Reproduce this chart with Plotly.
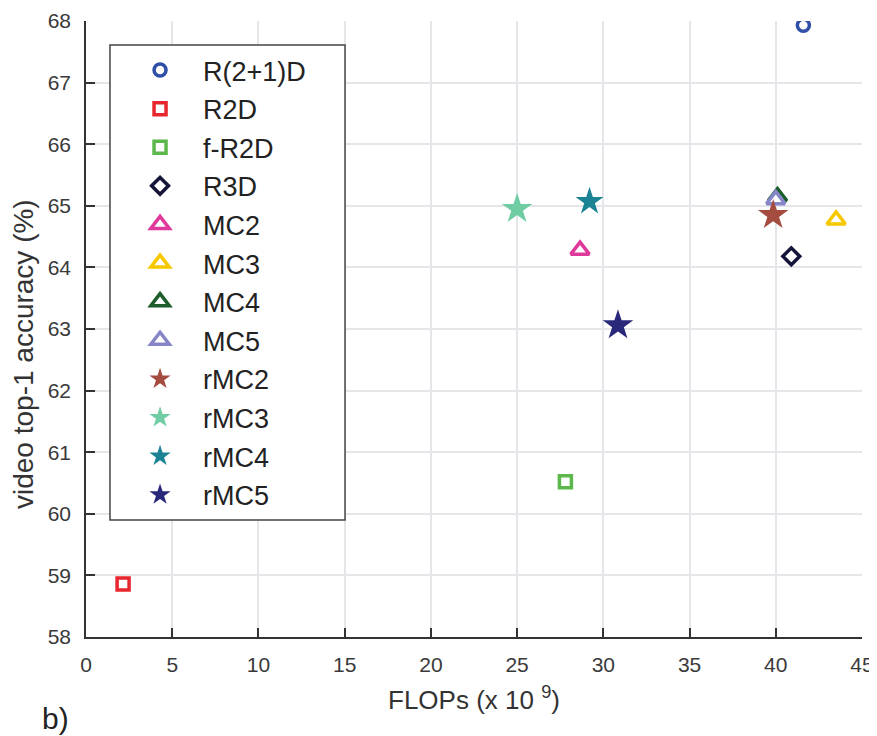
import plotly.graph_objects as go

names = ["R(2+1)D", "R2D", "f-R2D", "R3D", "MC2", "MC3", "MC4", "MC5",
         "rMC2", "rMC3", "rMC4", "rMC5"]
flops = [41.6, 2.15, 27.8, 40.9, 28.65, 43.5, 40.1, 40.0, 39.85, 25.0, 29.2, 30.85]
acc = [67.93, 58.86, 60.52, 64.18, 64.28, 64.77, 65.15, 65.1, 64.85, 64.95, 65.07, 63.06]
colors = ["#2f4fa8", "#e8262e", "#5db84b", "#15153a", "#e0399c", "#f6c800",
          "#1b5e2c", "#8585c8", "#a34c3f", "#6fcca3", "#1b8393", "#29287a"]
symbols = ["circle", "square", "square", "diamond", "triangle-up", "triangle-up",
           "triangle-up", "triangle-up", "star", "star", "star", "star"]
hollow = [True, True, True, True, True, True, True, True, False, False, False, False]
sizes = [12, 12, 12, 13, 16, 16, 16, 16, 23, 23, 21, 23]

x_ticks = [0, 5, 10, 15, 20, 25, 30, 35, 40, 45]
y_ticks = [58, 59, 60, 61, 62, 63, 64, 65, 66, 67, 68]

FONT = "Liberation Sans, Arial, Helvetica"

fig = go.Figure()
for i, n in enumerate(names):
    fig.add_trace(go.Scatter(
        x=[flops[i]], y=[acc[i]], mode="markers", name=n, legendgroup=n,
        marker=dict(symbol=symbols[i], size=sizes[i],
                    color="white" if hollow[i] else colors[i],
                    line=dict(color=colors[i], width=3.5 if hollow[i] else 0)),
    ))

axis_common = dict(showline=True, linecolor="#333", linewidth=1.5,
                   ticks="inside", ticklen=9, tickcolor="#333", tickwidth=1.5,
                   showgrid=True, gridcolor="#e4e6ea", gridwidth=1.8,
                   zeroline=False, mirror=False, automargin=False,
                   tickfont=dict(family=FONT, size=21, color="#3a3a3a"))

# legend frame (paper coords)
fig.add_shape(type="rect", xref="paper", yref="paper",
              x0=0.0309, x1=0.3338, y0=0.190, y1=0.961,
              fillcolor="white", line=dict(color="#444", width=1.5), layer="above")

fig.update_layout(
    width=869, height=728,
    margin=dict(l=78, r=15, t=13, b=99),
    plot_bgcolor="white", paper_bgcolor="white",
    font=dict(family=FONT, color="#222"),
    xaxis=dict(range=[0, 45], tickvals=x_ticks, ticklabelstandoff=8,
               title=dict(text="FLOPs (x 10 <sup>9</sup>)", font=dict(size=26, color="#333"), standoff=16),
               **axis_common),
    yaxis=dict(range=[58, 68], tickvals=y_ticks, ticklabelstandoff=9,
               **axis_common),
    legend=dict(x=0.040, y=0.9594, xanchor="left", yanchor="top",
                borderwidth=0, bgcolor="rgba(0,0,0,0)",
                font=dict(family=FONT, size=27, color="#222"),
                tracegroupgap=0.5, itemwidth=76),
    showlegend=True,
)
fig.add_annotation(text="video top-1 accuracy (%)", xref="paper", yref="paper",
                   x=-0.0812, y=0.4594, xanchor="center", yanchor="middle",
                   textangle=-90, showarrow=False,
                   font=dict(family=FONT, size=28, color="#333"))
fig.add_annotation(text="b)", xref="paper", yref="paper", x=-0.0593, y=-0.1315,
                   xanchor="left", yanchor="middle", showarrow=False,
                   font=dict(family=FONT, size=30, color="#222"))

fig.write_html("out.html")
